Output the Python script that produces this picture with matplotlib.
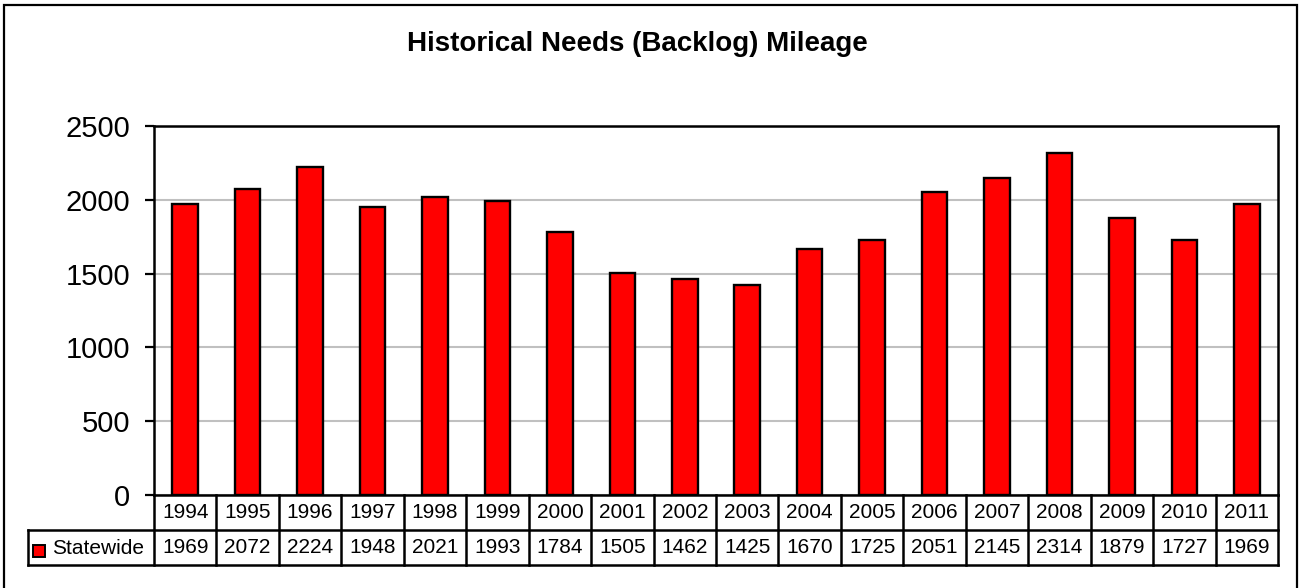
import matplotlib.pyplot as plt
from matplotlib.patches import Rectangle
import matplotlib.transforms as mtransforms

plt.rcParams['font.family'] = ['Liberation Sans', 'DejaVu Sans']

##### data #####
years = ['1994', '1995', '1996', '1997', '1998', '1999', '2000', '2001', '2002',
         '2003', '2004', '2005', '2006', '2007', '2008', '2009', '2010', '2011']
statewide = [1969, 2072, 2224, 1948, 2021, 1993, 1784, 1505, 1462,
             1425, 1670, 1725, 2051, 2145, 2314, 1879, 1727, 1969]
series_name = 'Statewide'
title = 'Historical Needs (Backlog) Mileage'
yticks = [0, 500, 1000, 1500, 2000, 2500]

W, H = 1299, 588
fig = plt.figure(figsize=(W / 100, H / 100), dpi=100)

# outer chart border
fig.patches.append(Rectangle((4 / W, -0.05), (1297 - 4) / W, 1.05 - 5 / H,
                             transform=fig.transFigure, fill=False,
                             edgecolor='black', linewidth=1.6))

# plot area px: left 154, right 1278, top 126, bottom 495
left, right, top, bottom = 154, 1278, 126, 495
ax = fig.add_axes([left / W, 1 - bottom / H, (right - left) / W, (bottom - top) / H])

x = list(range(len(years)))
ax.bar(x, statewide, width=0.41, color='#ff0000', edgecolor='black', linewidth=1.7, zorder=3)
ax.set_xlim(-0.5, len(years) - 0.5)
ax.set_ylim(0, 2500)
ax.set_yticks(yticks)
ax.set_yticklabels([str(v) for v in yticks], fontsize=21)
ax.tick_params(axis='y', direction='out', length=6.5, width=1.6, pad=10.5)
ax.tick_params(axis='x', bottom=False, labelbottom=False)
ax.grid(axis='y', color='#c0c0c0', linewidth=1.5, zorder=0)
for s in ax.spines.values():
    s.set_linewidth(1.8)
    s.set_zorder(4)

fig.text(637 / W, 1 - 44 / H, title, ha='center', va='center',
         fontsize=20, fontweight='bold')

##### data table #####
trans = mtransforms.blended_transform_factory(ax.transData, ax.transAxes)
row_h = 35 / (bottom - top)
y1 = -row_h       # bottom of years row
y2 = -2 * row_h   # bottom of values row
col_w = (right - left) / len(years)
leg_left = -0.5 - (left - 28) / col_w
lw = 1.8
kw = dict(transform=trans, color='black', linewidth=lw, clip_on=False, solid_capstyle='projecting')

# horizontal lines
ax.plot([leg_left, len(years) - 0.5], [y1, y1], **kw)
ax.plot([leg_left, len(years) - 0.5], [y2, y2], **kw)
# vertical lines
for i in range(len(years) + 1):
    ax.plot([i - 0.5, i - 0.5], [0, y2], **kw)
ax.plot([leg_left, leg_left], [y1, y2], **kw)

for i, (yr, v) in enumerate(zip(years, statewide)):
    ax.text(i, -row_h / 2, yr, transform=trans, ha='center', va='center', fontsize=15)
    ax.text(i, y1 - row_h / 2, str(v), transform=trans, ha='center', va='center', fontsize=15)

# legend key in table
fig.patches.append(Rectangle((33 / W, 1 - 557 / H), 12 / W, 12 / H,
                             transform=fig.transFigure, facecolor='#ff0000',
                             edgecolor='black', linewidth=1.4))
fig.text(52 / W, 1 - 548 / H, series_name, ha='left', va='center', fontsize=15)

fig.savefig('out.png', dpi=100)
